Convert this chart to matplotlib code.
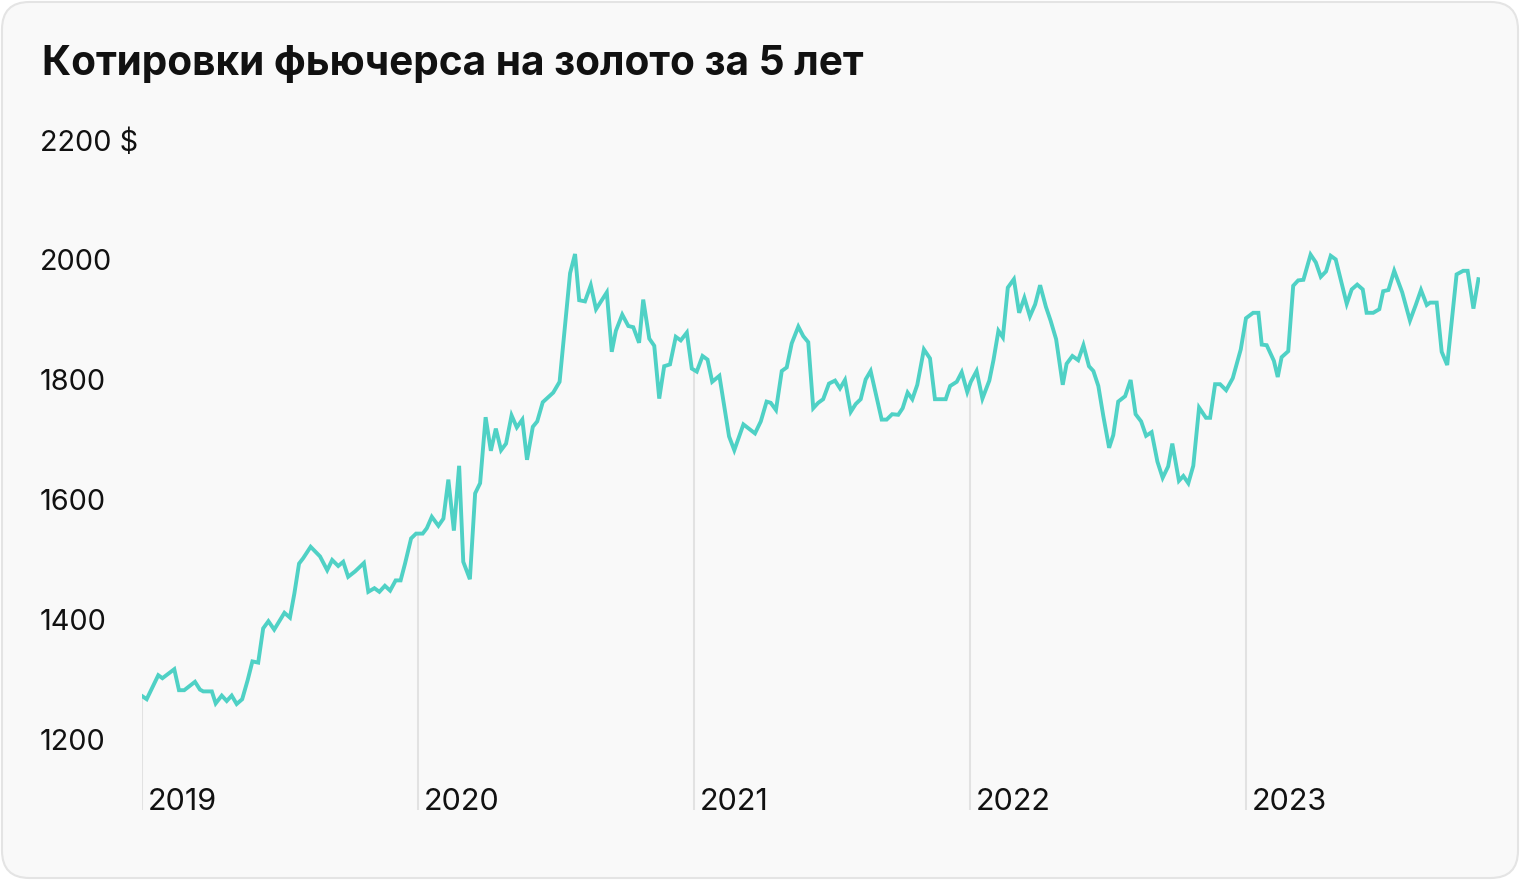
import matplotlib.pyplot as plt
import numpy as np
from matplotlib.patches import FancyBboxPatch
from matplotlib.transforms import blended_transform_factory

# weekly-ish gold futures quotes, time in decimal years
years_t = [
    2019.001, 2019.017, 2019.059, 2019.074, 2019.117, 2019.134, 2019.153, 2019.192, 2019.210, 2019.222,
    2019.253, 2019.267, 2019.289, 2019.307, 2019.325, 2019.343, 2019.363, 2019.383, 2019.400, 2019.421,
    2019.439, 2019.458, 2019.479, 2019.516, 2019.536, 2019.552, 2019.569, 2019.584, 2019.611, 2019.645,
    2019.671, 2019.689, 2019.711, 2019.729, 2019.747, 2019.772, 2019.804, 2019.820, 2019.842, 2019.860,
    2019.880, 2019.899, 2019.919, 2019.937, 2019.953, 2019.975, 2019.993,
    2020.017, 2020.032, 2020.050, 2020.074, 2020.092, 2020.110, 2020.130, 2020.149, 2020.164, 2020.188,
    2020.207, 2020.225, 2020.245, 2020.264, 2020.282, 2020.301, 2020.319, 2020.339, 2020.358, 2020.378,
    2020.395, 2020.416, 2020.432, 2020.452, 2020.490, 2020.513, 2020.551, 2020.569, 2020.584, 2020.605,
    2020.626, 2020.645, 2020.684, 2020.702, 2020.717, 2020.740, 2020.762, 2020.780, 2020.801, 2020.816,
    2020.838, 2020.856, 2020.874, 2020.892, 2020.913, 2020.934, 2020.952, 2020.974, 2020.992,
    2021.010, 2021.031, 2021.049, 2021.066, 2021.092, 2021.127, 2021.146, 2021.179, 2021.221, 2021.242,
    2021.263, 2021.278, 2021.297, 2021.318, 2021.336, 2021.354, 2021.378, 2021.396, 2021.414, 2021.432,
    2021.450, 2021.468, 2021.489, 2021.511, 2021.529, 2021.547, 2021.568, 2021.586, 2021.604, 2021.622,
    2021.640, 2021.680, 2021.698, 2021.718, 2021.740, 2021.756, 2021.774, 2021.791, 2021.809, 2021.833,
    2021.855, 2021.873, 2021.912, 2021.928, 2021.952, 2021.970, 2021.990,
    2022.003, 2022.024, 2022.045, 2022.070, 2022.085, 2022.103, 2022.119, 2022.137, 2022.159, 2022.178,
    2022.197, 2022.217, 2022.236, 2022.254, 2022.275, 2022.292, 2022.312, 2022.336, 2022.350, 2022.371,
    2022.392, 2022.411, 2022.431, 2022.447, 2022.465, 2022.483, 2022.504, 2022.519, 2022.537, 2022.562,
    2022.582, 2022.600, 2022.620, 2022.638, 2022.658, 2022.679, 2022.698, 2022.718, 2022.733, 2022.757,
    2022.773, 2022.791, 2022.809, 2022.830, 2022.855, 2022.870, 2022.888, 2022.906, 2022.928, 2022.952,
    2022.981,
    2023.000, 2023.026, 2023.045, 2023.057, 2023.075, 2023.101, 2023.115, 2023.129, 2023.153, 2023.171,
    2023.189, 2023.208, 2023.234, 2023.253, 2023.271, 2023.290, 2023.307, 2023.325, 2023.365, 2023.383,
    2023.403, 2023.423, 2023.437, 2023.461, 2023.483, 2023.497, 2023.516, 2023.537, 2023.566, 2023.594,
    2023.615, 2023.634, 2023.655, 2023.667, 2023.691, 2023.709, 2023.729, 2023.763, 2023.787, 2023.803,
    2023.824, 2023.842,
]
price = [
    1273, 1268, 1308, 1303, 1318, 1283, 1283, 1297, 1284, 1281,
    1281, 1261, 1274, 1265, 1274, 1260, 1268, 1300, 1331, 1329,
    1386, 1398, 1384, 1412, 1404, 1444, 1494, 1503, 1522, 1506,
    1483, 1500, 1490, 1497, 1472, 1481, 1495, 1447, 1453, 1447,
    1457, 1449, 1466, 1466, 1494, 1536, 1544,
    1544, 1553, 1572, 1557, 1569, 1634, 1549, 1657, 1497, 1468,
    1611, 1628, 1738, 1682, 1719, 1683, 1694, 1741, 1721, 1734,
    1667, 1722, 1731, 1763, 1779, 1797, 1978, 2010, 1933, 1931,
    1958, 1918, 1946, 1847, 1882, 1909, 1890, 1888, 1862, 1934,
    1869, 1857, 1769, 1823, 1826, 1872, 1866, 1879, 1819,
    1814, 1840, 1834, 1797, 1807, 1706, 1683, 1726, 1711, 1731,
    1764, 1762, 1750, 1815, 1821, 1861, 1889, 1873, 1863, 1753,
    1762, 1768, 1794, 1799, 1786, 1800, 1747, 1760, 1768, 1801,
    1815, 1734, 1734, 1743, 1742, 1753, 1779, 1768, 1792, 1851,
    1836, 1768, 1768, 1790, 1797, 1813, 1780,
    1797, 1815, 1769, 1799, 1833, 1882, 1871, 1954, 1968, 1912,
    1937, 1906, 1926, 1958, 1922, 1899, 1868, 1792, 1827, 1840,
    1833, 1858, 1823, 1815, 1790, 1740, 1687, 1708, 1764, 1773,
    1800, 1743, 1731, 1707, 1713, 1664, 1637, 1656, 1694, 1632,
    1640, 1628, 1657, 1754, 1737, 1737, 1793, 1793, 1783, 1803,
    1851,
    1903, 1912, 1912, 1859, 1858, 1832, 1805, 1838, 1848, 1957,
    1966, 1967, 2009, 1996, 1972, 1981, 2007, 2001, 1927, 1951,
    1959, 1951, 1912, 1912, 1918, 1948, 1950, 1982, 1946, 1899,
    1925, 1950, 1925, 1929, 1929, 1847, 1825, 1976, 1982, 1982,
    1919, 1968,
]
y_ticks = [1200, 1400, 1600, 1800, 2000, 2200]
y_labels = ['1200', '1400', '1600', '1800', '2000', '2200 $']
year_marks = [2019, 2020, 2021, 2022, 2023]
title = 'Котировки фьючерса на золото за 5 лет'

W, H = 1520, 880
fig = plt.figure(figsize=(W / 100, H / 100), dpi=100, facecolor='white')

card = FancyBboxPatch((2 / W, 2 / H), (W - 4) / W, (H - 4) / H,
                      boxstyle='round,pad=0,rounding_size=0.018',
                      transform=fig.transFigure, facecolor='#f9f9f9',
                      edgecolor='#e4e4e4', linewidth=1.5, mutation_aspect=W / H,
                      zorder=-10)
fig.patches.append(card)

fig.text(42 / W, 1 - 64 / H, title, fontsize=29.2, fontweight='bold',
         family=['Inter', 'DejaVu Sans'], color='#111111', va='center', ha='left')

# axes: x 142..1480 px, y 140..810 px from top
ax = fig.add_axes([142 / W, 70 / H, (1480 - 142) / W, (810 - 140) / H])
ax.set_zorder(5)
ax.set_facecolor('none')
ax.set_xlim(2019, 2019 + (1480 - 142) / 276)
ax.set_ylim(2200 - 670 / 0.6, 2200)
for s in ax.spines.values():
    s.set_visible(False)

# drop lines at year starts
for yr in year_marks:
    ax.vlines(yr, ax.get_ylim()[0], np.interp(yr, years_t, price),
              color='#e2e2e2', linewidth=1.5, zorder=1)

ax.plot(years_t, price, color='#4fd1c5', linewidth=2.8, solid_joinstyle='miter', zorder=3)

ax.set_yticks(y_ticks)
ax.set_yticklabels(y_labels, family=['Inter', 'DejaVu Sans'], fontsize=20.8, color='#111111', ha='left')
ax.tick_params(axis='y', length=0, pad=(142 - 40) * 0.72)
ax.set_xticks([])

tr = blended_transform_factory(ax.transData, ax.transAxes)
for yr in year_marks:
    ax.text(yr + 6 / 276, 0, str(yr), transform=tr, ha='left', va='baseline',
            fontsize=22, family=['Inter', 'DejaVu Sans'], color='#111111')

fig.savefig('out.png', dpi=100, facecolor='white')
